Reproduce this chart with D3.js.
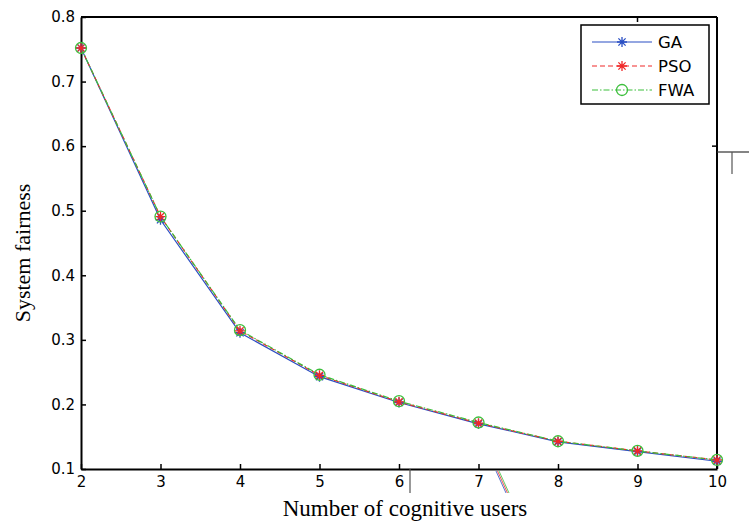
<!DOCTYPE html>
<html>
<head>
<meta charset="utf-8">
<script src="https://cdn.jsdelivr.net/npm/d3@7"></script>
<style>
  body { margin: 0; background: #fff; }
  svg { display: block; }
</style>
</head>
<body>
<div id="chart"></div>
<script>
// data
const users = [2, 3, 4, 5, 6, 7, 8, 9, 10];
const gaVals  = [0.752, 0.486, 0.311, 0.243, 0.203, 0.170, 0.142, 0.127, 0.112];
const psoVals = [0.752, 0.491, 0.314, 0.245, 0.204, 0.171, 0.143, 0.128, 0.114];
const fwaVals = [0.752, 0.491, 0.315, 0.246, 0.205, 0.172, 0.143, 0.128, 0.114];
const xTicks = [2, 3, 4, 5, 6, 7, 8, 9, 10];
const yTicks = [0.1, 0.2, 0.3, 0.4, 0.5, 0.6, 0.7, 0.8];
const seriesNames = ["GA", "PSO", "FWA"];

let WD = 749, HT = 524
let margin = { left: 81, right: 32, top: 17, bottom: 55 }
let width = WD - margin.left - margin.right
let height = HT - margin.top - margin.bottom

const series = [
  { name: seriesNames[0], vals: gaVals,  color: "#2a4fc4", dash: null,        marker: "star" },
  { name: seriesNames[1], vals: psoVals, color: "#f02828", dash: "5,3",       marker: "star" },
  { name: seriesNames[2], vals: fwaVals, color: "#3cbf3c", dash: "6,2,1.5,2", marker: "circle" }
];

var svg = d3.select("#chart").append("svg")
    .attr("width", WD)
    .attr("height", HT)

var g = svg.append("g").attr("transform", "translate(" + margin.left + "," + margin.top + ")")

var xs = d3.scaleLinear().domain([2, 10]).range([0, width])
var ys = d3.scaleLinear().domain([0.1, 0.8]).range([height, 0])

// axes, ticks pointing inward like matlab
var xAxis = d3.axisBottom(xs).tickValues(xTicks).tickSizeInner(-5).tickSizeOuter(0).tickPadding(7).tickFormat(d3.format("d"))
var yAxis = d3.axisLeft(ys).tickValues(yTicks).tickSizeInner(-5).tickSizeOuter(0).tickPadding(6).tickFormat(d3.format(".1f"))

var gx = g.append("g").attr("transform", "translate(0," + height + ")").call(xAxis)
var gy = g.append("g").call(yAxis)

;[gx, gy].forEach(function(a) {
  a.select(".domain").attr("stroke", "#000").attr("stroke-width", 2)
  a.selectAll(".tick line").attr("stroke", "#000").attr("stroke-width", 1.5)
  a.selectAll(".tick text")
    .attr("fill", "#000")
    .style("font-family", "'DejaVu Sans', sans-serif")
    .style("font-size", "15px")
})
gx.selectAll(".tick text").attr("dy", "0.72em")

// top and right edges of the box
g.append("line").attr("x1", 0).attr("x2", width).attr("y1", 0).attr("y2", 0)
  .attr("stroke", "#000").attr("stroke-width", 2)
g.append("line").attr("x1", width).attr("x2", width).attr("y1", 0).attr("y2", height)
  .attr("stroke", "#000").attr("stroke-width", 2)
// stray mirrored ticks visible in the figure
g.append("line").attr("x1", width).attr("x2", width - 5).attr("y1", ys(0.6)).attr("y2", ys(0.6))
  .attr("stroke", "#000").attr("stroke-width", 1.5)
g.append("line").attr("x1", xs(9)).attr("x2", xs(9)).attr("y1", 0).attr("y2", 5)
  .attr("stroke", "#000").attr("stroke-width", 1.5)

// lines
var line = d3.line().x(function(d, i) { return xs(users[i]) }).y(function(d) { return ys(d) })

series.forEach(function(s) {
  g.append("path")
    .datum(s.vals)
    .attr("d", line)
    .attr("fill", "none")
    .attr("stroke", s.color)
    .attr("stroke-width", 1.2)
    .attr("stroke-dasharray", s.dash)
})

function starPath(r) {
  var d = r * 0.72
  return "M" + (-r) + ",0L" + r + ",0M0," + (-r) + "L0," + r +
         "M" + (-d) + "," + (-d) + "L" + d + "," + d + "M" + (-d) + "," + d + "L" + d + "," + (-d)
}

function drawMarker(sel, s) {
  if (s.marker == "star") {
    sel.append("path").attr("d", starPath(5)).attr("fill", "none")
      .attr("stroke", s.color).attr("stroke-width", 1.3)
  } else {
    sel.append("circle").attr("r", 5.5).attr("fill", "none")
      .attr("stroke", s.color).attr("stroke-width", 1.3)
  }
}

series.forEach(function(s) {
  g.append("g").selectAll("g")
    .data(s.vals)
    .enter()
    .append("g")
      .attr("transform", function(d, i) { return "translate(" + xs(users[i]) + "," + ys(d) + ")" })
      .each(function() { drawMarker(d3.select(this), s) })
})

// legend
var lg = g.append("g").attr("transform", "translate(" + (width - 136) + ",8)")
lg.append("rect").attr("width", 128).attr("height", 79)
  .attr("fill", "#fff").attr("stroke", "#000").attr("stroke-width", 1.5)

series.forEach(function(s, i) {
  var row = lg.append("g").attr("transform", "translate(0," + (17 + i * 24) + ")")
  row.append("line").attr("x1", 11).attr("x2", 71).attr("y1", 0).attr("y2", 0)
    .attr("stroke", s.color).attr("stroke-width", 1.2).attr("stroke-dasharray", s.dash)
  drawMarker(row.append("g").attr("transform", "translate(41,0)"), s)
  row.append("text").attr("x", 77).attr("y", 6)
    .style("font-family", "'DejaVu Sans', sans-serif")
    .style("font-size", "16.5px")
    .text(s.name)
})

// axis titles
svg.append("text")
  .attr("x", margin.left + width / 2 + 6)
  .attr("y", HT - 8)
  .attr("text-anchor", "middle")
  .style("font-family", "'Liberation Serif', 'Times New Roman', serif")
  .style("font-size", "23px")
  .text("Number of cognitive users")

svg.append("text")
  .attr("transform", "translate(30," + (margin.top + height / 2 + 10) + ") rotate(-90)")
  .attr("text-anchor", "middle")
  .style("font-family", "'Liberation Serif', 'Times New Roman', serif")
  .style("font-size", "22px")
  .text("System fairness")

// scan artifacts around the figure
svg.append("line").attr("x1", 410).attr("x2", 410).attr("y1", margin.top + height).attr("y2", margin.top + height + 24)
  .attr("stroke", "#555").attr("stroke-width", 1.2)
;["#2a4fc4", "#f02828", "#3cbf3c"].forEach(function(c, i) {
  svg.append("line").attr("x1", 496 + i * 1.5).attr("x2", 506 + i * 1.5)
    .attr("y1", margin.top + height + 2).attr("y2", margin.top + height + 24)
    .attr("stroke", c).attr("stroke-width", 0.8)
})
svg.append("line").attr("x1", margin.left + width).attr("x2", WD).attr("y1", 152).attr("y2", 152)
  .attr("stroke", "#333").attr("stroke-width", 1.2)
svg.append("line").attr("x1", 732).attr("x2", 732).attr("y1", 152).attr("y2", 174)
  .attr("stroke", "#555").attr("stroke-width", 1.2)
</script>
</body>
</html>
